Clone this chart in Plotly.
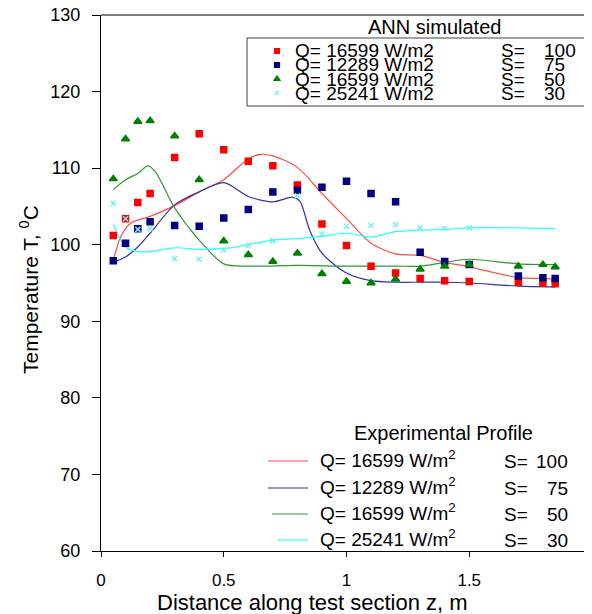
import plotly.graph_objects as go

# ANN simulated points (markers)
z_ann = [0.05, 0.1, 0.15, 0.2, 0.3, 0.4, 0.5, 0.6, 0.7, 0.8, 0.9, 1.0, 1.1, 1.2, 1.3, 1.4, 1.5, 1.7, 1.8, 1.85]
t_ann_100 = [101.2, 103.4, 105.5, 106.7, 111.4, 114.5, 112.4, 110.9, 110.3, 107.8, 102.7, 99.9, 97.2, 96.3, 95.6, 95.3, 95.2, 95.1, 95.0, 94.9]
t_ann_75 = [97.9, 100.2, 102.1, 103.0, 102.5, 102.4, 103.5, 104.6, 106.9, 107.1, 107.5, 108.3, 106.7, 105.6, 99.0, 97.8, 97.4, 95.9, 95.7, 95.6]
t_ann_50 = [108.6, 113.8, 116.1, 116.2, 114.2, 108.5, 100.5, 98.7, 97.8, 98.9, 96.2, 95.2, 95.0, 95.5, 96.8, 97.2, 97.4, 97.2, 97.4, 97.1]
z_ann_30 = [0.05, 0.1, 0.15, 0.2, 0.3, 0.4, 0.5, 0.6, 0.7, 0.8, 0.9, 1.0, 1.1, 1.2, 1.3, 1.4, 1.5]
t_ann_30 = [105.4, 103.4, 102.0, 102.1, 98.2, 98.1, 99.3, 99.9, 100.5, 106.4, 101.4, 102.4, 102.5, 102.6, 102.2, 102.1, 102.2]

# experimental profiles (lines)
z_exp_100 = [0.05, 0.08, 0.12, 0.2, 0.3, 0.4, 0.5, 0.6, 0.65, 0.7, 0.8, 0.9, 1.0, 1.1, 1.2, 1.3, 1.4, 1.5, 1.7, 1.8, 1.85]
t_exp_100 = [97.9, 101.0, 102.8, 103.7, 105.1, 106.9, 108.5, 111.2, 111.8, 111.6, 110.1, 106.7, 103.4, 100.2, 98.8, 98.6, 97.7, 97.1, 95.7, 95.6, 95.5]
z_exp_75 = [0.05, 0.1, 0.15, 0.2, 0.3, 0.4, 0.5, 0.6, 0.7, 0.78, 0.81, 0.85, 0.9, 1.0, 1.1, 1.2, 1.3, 1.4, 1.5, 1.7, 1.85]
t_exp_75 = [97.7, 98.4, 99.7, 101.5, 105.2, 106.9, 108.1, 106.3, 105.6, 106.2, 105.7, 101.9, 98.9, 96.3, 95.3, 95.1, 95.1, 95.1, 95.0, 94.6, 94.5]
z_exp_50 = [0.05, 0.1, 0.15, 0.19, 0.22, 0.3, 0.4, 0.5, 0.6, 0.8, 1.0, 1.2, 1.3, 1.4, 1.5, 1.7, 1.85]
t_exp_50 = [107.2, 108.5, 109.3, 110.3, 109.6, 104.8, 100.6, 97.5, 97.2, 97.3, 97.2, 97.2, 97.2, 97.7, 98.1, 97.5, 97.4]
z_exp_30 = [0.05, 0.1, 0.15, 0.2, 0.3, 0.4, 0.5, 0.6, 0.7, 0.8, 0.9, 1.0, 1.1, 1.2, 1.3, 1.4, 1.5, 1.7, 1.85]
t_exp_30 = [102.6, 99.7, 99.1, 99.1, 99.6, 99.4, 99.5, 100.0, 100.6, 100.8, 101.1, 101.5, 101.0, 101.7, 101.9, 102.0, 102.2, 102.2, 102.1]

q_labels = ["16599", "12289", "16599", "25241"]
s_labels = ["100", "75", "50", "30"]

x_ticks = [0, 0.5, 1, 1.5, 2]
x_tick_text = ["0", "0.5", "1", "1.5", "2"]
y_ticks = [60, 70, 80, 90, 100, 110, 120, 130]

FONT = "Liberation Sans, Arial, sans-serif"

# plot area in screen pixels (the page body adds an 8px offset)
OFF = 8
L, R, T, B = 101, 592, 15, 551


def px(x):
    return (x - L) / (R - L)


def py(y):
    return (B - y) / (B - T)


fig = go.Figure()

# experimental lines
line_cols = ["#ff4a4a", "#33339f", "#2f962f", "#22ffff"]
for zz, tt, c in zip([z_exp_100, z_exp_75, z_exp_50, z_exp_30],
                     [t_exp_100, t_exp_75, t_exp_50, t_exp_30], line_cols):
    fig.add_trace(go.Scatter(x=zz, y=tt, mode="lines", line=dict(color=c, width=1.2, shape="spline", smoothing=0.8),
                             showlegend=False, hoverinfo="skip"))

# ANN markers
mk = [
    (z_ann, t_ann_100, "square", "#ff0000", 6),
    (z_ann, t_ann_75, "square", "#000080", 6),
    (z_ann, t_ann_50, "triangle-up", "#008000", 7),
    (z_ann_30, t_ann_30, "x-thin", "#70f0f0", 5),
]
for zz, tt, sym, c, s in mk:
    fig.add_trace(go.Scatter(x=zz, y=tt, mode="markers",
                             marker=dict(symbol=sym, color=c, size=s, line=dict(color=c, width=1.5)),
                             showlegend=False, hoverinfo="skip"))

# legend symbols for the ANN box (on a hidden overlay axis 0..1 = plot area)
row_y = [51, 65, 79, 93]
for (zz, tt, sym, c, s), ry in zip(mk, row_y):
    fig.add_trace(go.Scatter(x=[px(277)], y=[py(ry)], mode="markers", xaxis="x2", yaxis="y2",
                             marker=dict(symbol=sym, color=c, size=s - 1, line=dict(color=c, width=1.2)),
                             showlegend=False, hoverinfo="skip"))


def note(x, y, text, anchor="left", size=19, angle=0):
    return dict(x=px(x), y=py(y), xref="paper", yref="paper", text=text, showarrow=False,
                xanchor=anchor, yanchor="middle", textangle=angle, font=dict(size=size))


anns = []
shapes = []

# top border of the plot
shapes.append(dict(type="line", xref="paper", yref="paper", x0=0, x1=1, y0=1, y1=1,
                   line=dict(color="black", width=1)))

# ANN simulated legend
anns.append(note(434, 27, "ANN simulated", "center", 20))
shapes.append(dict(type="rect", xref="paper", yref="paper", x0=px(247), x1=px(591), y0=py(38), y1=py(106),
                   line=dict(color="#444", width=1)))
for q, s, ry in zip(q_labels, s_labels, row_y):
    anns.append(note(293, ry, "Q= " + q + " W/m2"))
    anns.append(note(499, ry, "S="))
    anns.append(note(542, ry, s))

# Experimental profile legend
anns.append(note(443, 433, "Experimental Profile", "center", 20))
exp_rows = [461, 488, 514, 540]
line_starts = [268, 268, 272, 278]
for q, s, ry, x0, c in zip(q_labels, s_labels, exp_rows, line_starts, line_cols):
    shapes.append(dict(type="line", xref="paper", yref="paper", x0=px(x0), x1=px(308), y0=py(ry), y1=py(ry),
                       line=dict(color=c, width=1.2)))
    anns.append(note(318, ry - 2, "Q= " + q + " W/m<sup>2</sup>"))
    anns.append(note(502, ry, "S="))
    anns.append(note(570, ry, s, "right"))

# axis titles
anns.append(note(312, 602, "Distance along test section z, m", "center", 22))
anns.append(note(29, 290, "Temperature T, <sup>0</sup>C", "center", 21, -90))

fig.update_layout(
    width=592 - OFF, height=614 - OFF,
    margin=dict(l=L - OFF, r=0, t=T - OFF, b=614 - B),
    paper_bgcolor="white", plot_bgcolor="white",
    font=dict(family=FONT, color="black", size=18),
    showlegend=False,
    annotations=anns,
    shapes=shapes,
    xaxis=dict(range=[0, 2], tickvals=x_ticks, ticktext=x_tick_text, showgrid=False, zeroline=False,
               showline=True, linecolor="black", linewidth=1, ticks="outside", ticklen=5,
               tickcolor="black", ticklabelstandoff=9, tickfont=dict(size=17), automargin=False,
               ticklabeloverflow="allow"),
    yaxis=dict(range=[60, 130], tickvals=y_ticks, showgrid=False, zeroline=False,
               showline=True, linecolor="black", linewidth=1, ticks="outside", ticklen=8,
               tickcolor="black", ticklabelstandoff=8, tickfont=dict(size=18), automargin=False,
               ticklabeloverflow="allow"),
    xaxis2=dict(overlaying="x", range=[0, 1], visible=False),
    yaxis2=dict(overlaying="y", range=[0, 1], visible=False),
)

fig.write_html("out.html")
